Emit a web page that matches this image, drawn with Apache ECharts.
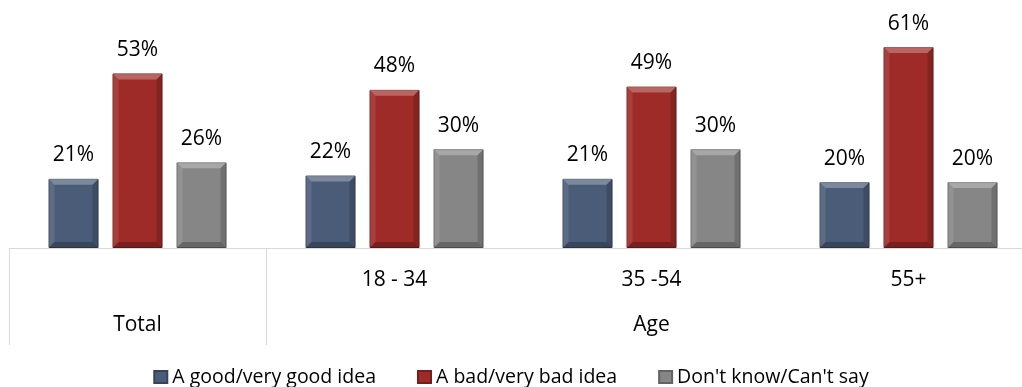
<!DOCTYPE html>
<html>
<head>
<meta charset="utf-8">
<script src="https://cdn.jsdelivr.net/npm/echarts@6/dist/echarts.min.js"></script>
<style>
  html, body { margin: 0; padding: 0; background: #ffffff; }
  #chart { width: 1022px; height: 387px; }
</style>
</head>
<body>
<div id="chart"></div>
<script>
// Survey results by age group
const categories = ['Total', '18 - 34', '35 -54', '55+'];
const groupLabels = ['Total', 'Age'];
const groupSpans = [1, 3];
const seriesNames = ['A good/very good idea', 'A bad/very bad idea', "Don't know/Can't say"];
const goodIdea = [21, 22, 21, 20];
const badIdea = [53, 48, 49, 61];
const dontKnow = [26, 30, 30, 20];

const palette = [
  { main: '#4a5c78', dark: '#364359' },
  { main: '#9e2b27', dark: '#741f1c' },
  { main: '#868686', dark: '#636363' }
];

const FONT = '"Open Sans", Lato, sans-serif';
const LABEL_SIZE = 21;
const LEGEND_SIZE = 19.5;
const BAR_WIDTH = 50;
const BAR_GAP = 14;
const BEVEL = 6;

// boundaries of the outer category groups (in category units)
const groupBounds = [0];
groupSpans.forEach(s => groupBounds.push(groupBounds[groupBounds.length - 1] + s));
const groupCenters = groupSpans.map((s, i) => groupBounds[i] + s / 2);

function makeSeries(name, data, c) {
  return {
    name: name,
    type: 'bar',
    data: data,
    barWidth: BAR_WIDTH,
    barGap: (BAR_GAP / BAR_WIDTH * 100) + '%',
    itemStyle: { color: c.main, borderColor: c.dark, borderWidth: 1 },
    label: {
      show: true,
      position: 'top',
      distance: 13,
      formatter: '{c}%',
      color: '#000000',
      fontFamily: FONT,
      fontSize: LABEL_SIZE
    },
    emphasis: { disabled: true }
  };
}

// shaded facets laid over each bar to give it a bevelled look
const allSeries = [goodIdea, badIdea, dontKnow];
const bevelData = [];
allSeries.forEach((vals, s) => vals.forEach((v, i) => bevelData.push([i, v, s])));

function renderBevel(params, api) {
  const cat = api.value(0);
  const val = api.value(1);
  const s = api.value(2);
  const base = api.coord([cat, 0]);
  const top = api.coord([cat, val]);
  const n = allSeries.length;
  const offset = (s - (n - 1) / 2) * (BAR_WIDTH + BAR_GAP);
  const x0 = base[0] + offset - BAR_WIDTH / 2;
  const x1 = x0 + BAR_WIDTH;
  const y0 = top[1];
  const y1 = base[1];
  const b = Math.min(BEVEL, (y1 - y0) / 2);
  const facet = (pts, fill) => ({
    type: 'polygon', shape: { points: pts }, style: { fill: fill }, silent: true
  });
  return {
    type: 'group',
    children: [
      facet([[x0, y0], [x1, y0], [x1 - b, y0 + b], [x0 + b, y0 + b]], 'rgba(255,255,255,0.28)'),
      facet([[x0, y0], [x0 + b, y0 + b], [x0 + b, y1 - b], [x0, y1]], 'rgba(255,255,255,0.10)'),
      facet([[x1, y0], [x1, y1], [x1 - b, y1 - b], [x1 - b, y0 + b]], 'rgba(0,0,0,0.16)'),
      facet([[x0, y1], [x0 + b, y1 - b], [x1 - b, y1 - b], [x1, y1]], 'rgba(0,0,0,0.24)')
    ]
  };
}

const chart = echarts.init(document.getElementById('chart'));
chart.setOption({
  animation: false,
  backgroundColor: '#ffffff',
  color: palette.map(c => c.main),
  // the last group runs past the right edge of the canvas
  grid: { left: 9, right: -15, top: 17.4, bottom: 139, outerBoundsMode: 'none', containLabel: false },
  legend: {
    bottom: -5,
    left: 'center',
    icon: 'rect',
    itemWidth: 13,
    itemHeight: 12,
    itemGap: 41,
    textStyle: { fontFamily: FONT, fontSize: LEGEND_SIZE, color: '#000000' },
    data: seriesNames
  },
  xAxis: [
    {
      type: 'category',
      data: categories,
      axisLine: { show: true, lineStyle: { color: '#d9d9d9', width: 1 } },
      axisTick: { show: false },
      axisLabel: {
        margin: 22,
        fontFamily: FONT,
        fontSize: LABEL_SIZE,
        color: '#000000',
        formatter: (v, i) => (i === 0 ? '' : v)
      }
    },
    {
      type: 'value',
      position: 'bottom',
      min: 0,
      max: categories.length,
      axisLine: { show: false },
      splitLine: { show: false },
      axisTick: {
        show: true,
        customValues: groupBounds,
        length: 97,
        lineStyle: { color: '#d9d9d9', width: 1 }
      },
      axisLabel: {
        show: true,
        customValues: groupCenters,
        margin: 67,
        fontFamily: FONT,
        fontSize: LABEL_SIZE,
        color: '#000000',
        formatter: v => groupLabels[groupCenters.indexOf(v)]
      }
    }
  ],
  yAxis: {
    type: 'value',
    min: 0,
    max: 70,
    show: false,
    splitLine: { show: false }
  },
  series: [
    makeSeries(seriesNames[0], goodIdea, palette[0]),
    makeSeries(seriesNames[1], badIdea, palette[1]),
    makeSeries(seriesNames[2], dontKnow, palette[2]),
    {
      type: 'custom',
      xAxisIndex: 0,
      renderItem: renderBevel,
      data: bevelData,
      z: 3,
      silent: true,
      tooltip: { show: false }
    }
  ]
});
</script>
</body>
</html>
